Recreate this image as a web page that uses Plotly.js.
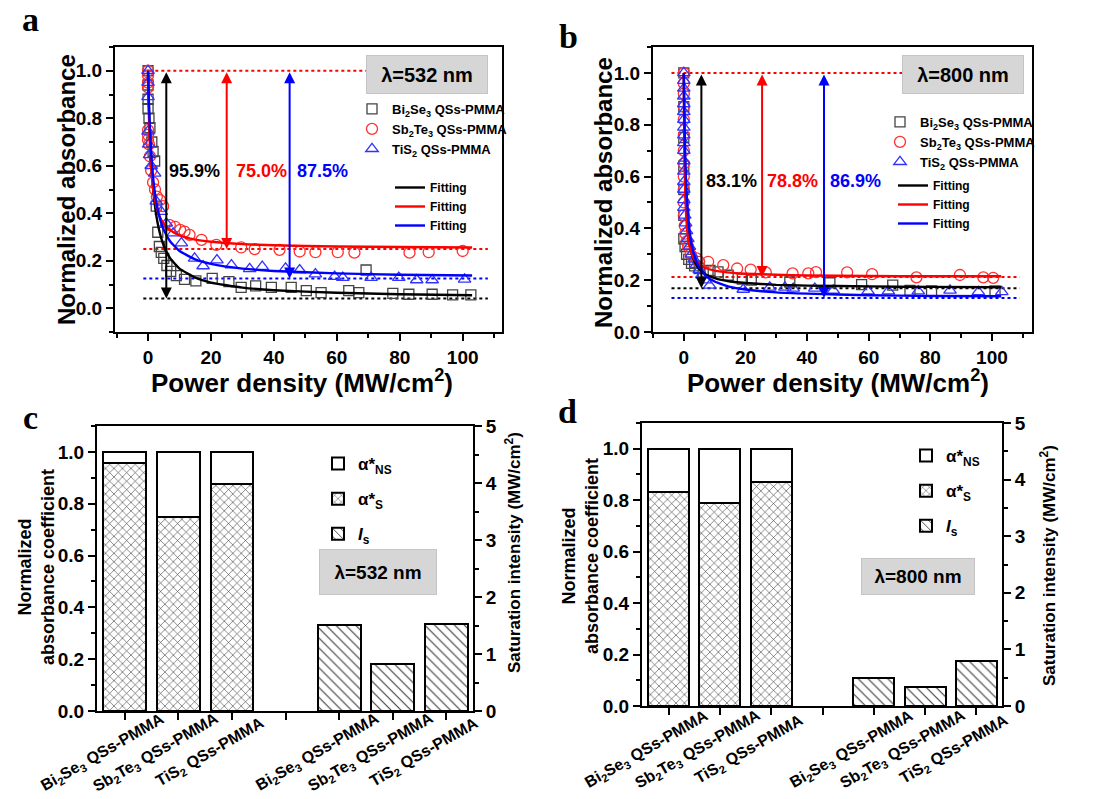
<!DOCTYPE html>
<html>
<head>
<meta charset="utf-8">
<script src="https://cdn.plot.ly/plotly-3.0.1.min.js"></script>
<style>html,body{margin:0;padding:0;background:#fff;}#chart{width:1104px;height:799px;}</style>
</head>
<body>
<div id="chart"></div>
<script>
// ---------------- DATA ----------------
const materials = ['Bi<sub>2</sub>Se<sub>3</sub> QSs-PMMA', 'Sb<sub>2</sub>Te<sub>3</sub> QSs-PMMA', 'TiS<sub>2</sub> QSs-PMMA'];

// Panel a (532 nm) measured points
const aBiX = [0, 0, 0, 0, 0.3, 0.6, 1.2, 1.6, 2.1, 2.6, 3.1, 3.6, 4.2, 5.0, 6.0, 7.2, 9.0, 11.6, 15.2, 20.4, 25.7, 29.6, 34.2, 39.2, 45.5, 50.3, 55.0, 63.8, 67.0, 69.3, 77.8, 82.9, 90.3, 96.8, 102.6];
const aBiY = [1.0, 0.94, 0.88, 0.84, 0.80, 0.76, 0.70, 0.66, 0.62, 0.43, 0.32, 0.26, 0.235, 0.21, 0.18, 0.155, 0.137, 0.122, 0.115, 0.126, 0.112, 0.088, 0.094, 0.088, 0.088, 0.074, 0.066, 0.074, 0.066, 0.161, 0.063, 0.059, 0.059, 0.056, 0.056];
const aSbX = [0, 0, 0, 0, 0, 0, 0, 0.3, 0.6, 1.0, 1.6, 2.2, 2.8, 3.8, 4.8, 6.9, 8.6, 10.2, 11.6, 13.2, 17.0, 21.7, 29.6, 33.9, 41.8, 48.2, 53.2, 60.3, 65.6, 83.1, 89.2, 100.0];
const aSbY = [1.0, 0.98, 0.95, 0.93, 0.75, 0.73, 0.71, 0.69, 0.64, 0.58, 0.53, 0.50, 0.47, 0.455, 0.43, 0.35, 0.343, 0.33, 0.323, 0.309, 0.288, 0.267, 0.256, 0.249, 0.246, 0.239, 0.236, 0.236, 0.234, 0.234, 0.236, 0.241];
const aTiX = [0, 0, 0, 0, 0.2, 0.5, 1.0, 2.1, 2.6, 4.2, 5.8, 8.0, 10.6, 14.8, 17.5, 21.9, 26.5, 32.3, 36.3, 43.7, 48.2, 53.2, 59.3, 61.9, 70.9, 79.7, 85.4, 90.3, 100.6];
const aTiY = [1.0, 0.95, 0.89, 0.745, 0.69, 0.646, 0.60, 0.568, 0.45, 0.407, 0.358, 0.316, 0.274, 0.21, 0.178, 0.203, 0.182, 0.166, 0.175, 0.168, 0.161, 0.144, 0.133, 0.129, 0.129, 0.129, 0.119, 0.119, 0.122];

// Panel a fitting curves
const aFitX  = [0, 0.25, 0.5, 1, 1.5, 2, 3, 4, 5, 7, 10, 15, 20, 30, 40, 60, 80, 103];
const aFitBi = [1.0, 0.864, 0.762, 0.618, 0.522, 0.453, 0.362, 0.304, 0.263, 0.211, 0.167, 0.129, 0.108, 0.087, 0.076, 0.065, 0.059, 0.055];
const aFitSb = [1.0, 0.825, 0.716, 0.588, 0.515, 0.468, 0.411, 0.378, 0.356, 0.329, 0.307, 0.289, 0.280, 0.270, 0.265, 0.260, 0.258, 0.256];
const aFitTi = [1.0, 0.877, 0.784, 0.654, 0.567, 0.504, 0.420, 0.367, 0.330, 0.282, 0.241, 0.206, 0.187, 0.167, 0.157, 0.147, 0.141, 0.138];

// Panel b (800 nm) measured points
const bBiX = [0, 0, 0, 0, 0, 0, 0, 0.4, 0.9, 1.6, 2.5, 3.5, 5.0, 6.3, 8.5, 11.1, 14.4, 19.0, 21.9, 34.4, 47.4, 57.7, 67.8, 73.4, 80.4, 101.0];
const bBiY = [1.0, 0.87, 0.75, 0.64, 0.55, 0.45, 0.36, 0.33, 0.30, 0.28, 0.265, 0.255, 0.245, 0.232, 0.238, 0.232, 0.219, 0.204, 0.20, 0.193, 0.19, 0.183, 0.181, 0.161, 0.159, 0.159];
const bSbX = [0, 0, 0, 0, 0, 0, 0, 0, 0, 0, 0, 0, 0.3, 0.5, 0.9, 1.4, 2.2, 4.1, 5.0, 7.9, 12.8, 17.3, 21.7, 26.6, 35.3, 40.4, 42.9, 53.0, 61.1, 75.5, 89.6, 97.2, 100.4];
const bSbY = [1.0, 0.96, 0.92, 0.87, 0.82, 0.76, 0.70, 0.65, 0.60, 0.55, 0.50, 0.45, 0.41, 0.38, 0.35, 0.33, 0.30, 0.284, 0.271, 0.271, 0.258, 0.245, 0.241, 0.23, 0.226, 0.226, 0.231, 0.23, 0.223, 0.211, 0.22, 0.211, 0.209];
const bTiX = [0, 0, 0, 0, 0, 0, 0, 0, 0, 0, 0, 0, 0, 0, 0, 0, 0, 0.3, 0.6, 0.9, 1.3, 1.8, 2.5, 3.3, 4.1, 5.0, 5.9, 7.0, 8.4, 19.3, 27.9, 32.8, 35.5, 42.5, 48.5, 59.8, 66.4, 76.1, 86.4, 95.6, 103.2];
const bTiY = [1.0, 0.97, 0.94, 0.91, 0.88, 0.85, 0.82, 0.79, 0.76, 0.73, 0.70, 0.66, 0.62, 0.58, 0.55, 0.51, 0.48, 0.45, 0.42, 0.39, 0.36, 0.33, 0.30, 0.28, 0.26, 0.24, 0.22, 0.20, 0.18, 0.164, 0.172, 0.172, 0.168, 0.168, 0.161, 0.158, 0.158, 0.158, 0.161, 0.155, 0.155];

// Panel b fitting curves
const bFitX  = [0, 0.1, 0.25, 0.5, 0.75, 1, 1.5, 2, 3, 4, 5, 7, 10, 15, 20, 30, 40, 60, 80, 103];
const bFitBi = [1.0, 0.859, 0.719, 0.580, 0.497, 0.442, 0.374, 0.333, 0.286, 0.260, 0.243, 0.223, 0.208, 0.195, 0.189, 0.182, 0.179, 0.176, 0.174, 0.173];
const bFitSb = [1.0, 0.817, 0.660, 0.525, 0.453, 0.408, 0.354, 0.324, 0.290, 0.272, 0.261, 0.247, 0.237, 0.229, 0.225, 0.221, 0.218, 0.216, 0.215, 0.215];
const bFitTi = [1.0, 0.902, 0.791, 0.663, 0.577, 0.515, 0.431, 0.377, 0.312, 0.274, 0.250, 0.219, 0.195, 0.174, 0.164, 0.153, 0.148, 0.142, 0.139, 0.138];

// Panels c/d: bar values
const alphaS_532  = [0.959, 0.750, 0.875];
const alphaNS_532 = [0.041, 0.250, 0.125];
const Is_532      = [1.51, 0.82, 1.53];
const alphaS_800  = [0.831, 0.788, 0.869];
const alphaNS_800 = [0.169, 0.212, 0.131];
const Is_800      = [0.49, 0.33, 0.79];
const pctLabels_532 = ['95.9%', '75.0%', '87.5%'];
const pctLabels_800 = ['83.1%', '78.8%', '86.9%'];

// ---------------- STYLE ----------------
const FONT = "'Liberation Sans', Arial, sans-serif";
const SERIF = "'Liberation Serif', 'Times New Roman', serif";
const colors = ['#000000', '#ff0000', '#0000ff'];
const markColors = ['#444444', '#ff3030', '#3333ff'];
const symbols = ['square-open', 'circle-open', 'triangle-up-open'];
const W = 1104, H = 799;
const px = v => v / W, py = v => 1 - v / H;

const tickFont = {family: FONT, size: 19, color: '#000', weight: 'bold'};
const minorStyle = (dt) => ({dtick: dt, ticklen: 4, tickwidth: 2, ticks: 'outside', tickcolor: '#000'});
const baseAxis = {showline: true, linewidth: 2, linecolor: '#000', ticks: 'outside', ticklen: 7, tickwidth: 2,
  tickcolor: '#000', showgrid: false, zeroline: false, tickfont: tickFont, fixedrange: true};

const traces = [];
function scatterPanel(xa, ya, pts, fits, fitX, legM, legL) {
  pts.forEach((p, i) => {
    traces.push({type: 'scatter', mode: 'markers', x: p[0], y: p[1], xaxis: xa, yaxis: ya,
      name: materials[i], legend: legM,
      marker: {symbol: symbols[i], size: i === 0 ? 10 : 11, color: markColors[i], line: {width: 1.3, color: markColors[i]}}});
  });
  fits.forEach((f, i) => {
    traces.push({type: 'scatter', mode: 'lines', x: fitX, y: f, xaxis: xa, yaxis: ya,
      name: 'Fitting', legend: legL, line: {color: colors[i], width: 2.4, shape: 'spline', smoothing: 0.4}});
  });
}
scatterPanel('x', 'y', [[aBiX, aBiY], [aSbX, aSbY], [aTiX, aTiY]], [aFitBi, aFitSb, aFitTi], aFitX, 'legend', 'legend2');
scatterPanel('x2', 'y2', [[bBiX, bBiY], [bSbX, bSbY], [bTiX, bTiY]], [bFitBi, bFitSb, bFitTi], bFitX, 'legend3', 'legend4');

const posA = materials.map((_, i) => i);
const posI = materials.map((_, i) => i + 4);
function barPanel(xa, ya, yr, aS, aNS, Is, leg, tag) {
  const line = {color: '#000', width: 2};
  traces.push({type: 'bar', x: posA, y: aS, xaxis: xa, yaxis: ya, width: 0.8, name: 'α*<sub>S</sub>',
    legend: leg, legendrank: 2, legendgroup: tag + 's',
    marker: {color: '#fff', line: line, pattern: {shape: 'x', fgcolor: '#333', bgcolor: '#fff', size: 6, solidity: 0.18}}});
  traces.push({type: 'bar', x: posA, y: aNS, xaxis: xa, yaxis: ya, width: 0.8, name: 'α*<sub>NS</sub>',
    legend: leg, legendrank: 1, legendgroup: tag + 'ns',
    marker: {color: '#fff', line: line}});
  traces.push({type: 'bar', x: posI, y: Is, xaxis: xa, yaxis: yr, width: 0.8, name: '<i>I</i><sub>s</sub>',
    legend: leg, legendrank: 3, legendgroup: tag + 'is',
    marker: {color: '#fff', line: line, pattern: {shape: '\\', fgcolor: '#333', bgcolor: '#fff', size: 7, solidity: 0.15}}});
}
barPanel('x3', 'y3', 'y5', alphaS_532, alphaNS_532, Is_532, 'legend5', 'c');
barPanel('x4', 'y4', 'y6', alphaS_800, alphaNS_800, Is_800, 'legend6', 'd');

const catTickVals = [0, 1, 2, 3, 4, 5, 6];
const catFont = {family: FONT, size: 16, color: '#000', weight: 'bold'};

const layout = {
  width: W, height: H, margin: {l: 0, r: 0, t: 0, b: 0},
  paper_bgcolor: '#fff', plot_bgcolor: 'rgba(0,0,0,0)',
  font: {family: FONT, color: '#000'},
  barmode: 'stack', bargap: 0.2,
  xaxis: Object.assign({}, baseAxis, {domain: [px(115), px(502)], anchor: 'y', range: [-10.5, 112.5], tick0: 0, dtick: 20, mirror: true, minor: minorStyle(10)}),
  yaxis: Object.assign({}, baseAxis, {domain: [py(332), py(47)], anchor: 'x', range: [-0.1, 1.1], tick0: 0, dtick: 0.2, tickformat: '.1f', mirror: true, minor: minorStyle(0.1)}),
  xaxis2: Object.assign({}, baseAxis, {domain: [px(653), px(1032)], anchor: 'y2', range: [-10, 113], tick0: 0, dtick: 20, mirror: true, minor: minorStyle(10)}),
  yaxis2: Object.assign({}, baseAxis, {domain: [py(332), py(47)], anchor: 'x2', range: [0, 1.1], tick0: 0, dtick: 0.2, tickformat: '.1f', mirror: true, minor: minorStyle(0.1)}),
  xaxis3: Object.assign({}, baseAxis, {domain: [px(97), px(473)], anchor: 'y3', range: [-0.52, 6.5], tickmode: 'array', tickvals: catTickVals, showticklabels: false, mirror: true}),
  yaxis3: Object.assign({}, baseAxis, {domain: [py(711), py(426)], anchor: 'x3', range: [0, 1.1], tick0: 0, dtick: 0.2, tickformat: '.1f', minor: minorStyle(0.1)}),
  yaxis5: Object.assign({}, baseAxis, {overlaying: 'y3', side: 'right', anchor: 'x3', range: [0, 5], tick0: 0, dtick: 1, minor: minorStyle(0.5)}),
  xaxis4: Object.assign({}, baseAxis, {domain: [px(642), px(1002)], anchor: 'y4', range: [-0.52, 6.5], tickmode: 'array', tickvals: catTickVals, showticklabels: false, mirror: true}),
  yaxis4: Object.assign({}, baseAxis, {domain: [py(706), py(423)], anchor: 'x4', range: [0, 1.1], tick0: 0, dtick: 0.2, tickformat: '.1f', minor: minorStyle(0.1)}),
  yaxis6: Object.assign({}, baseAxis, {overlaying: 'y4', side: 'right', anchor: 'x4', range: [0, 5], tick0: 0, dtick: 1, minor: minorStyle(0.5)}),
  shapes: [], annotations: []
};

const legBase = {xanchor: 'left', yanchor: 'top', bgcolor: 'rgba(0,0,0,0)', borderwidth: 0,
  font: {family: FONT, size: 13, color: '#000', weight: 'bold'}, traceorder: 'normal', itemclick: false, itemdoubleclick: false};
layout.legend  = Object.assign({}, legBase, {x: px(352), y: py(94)});
layout.legend2 = Object.assign({}, legBase, {x: px(390), y: py(173), font: {family: FONT, size: 12, color: '#000', weight: 'bold'}});
layout.legend3 = Object.assign({}, legBase, {x: px(880), y: py(107)});
layout.legend4 = Object.assign({}, legBase, {x: px(893), y: py(171), font: {family: FONT, size: 12, color: '#000', weight: 'bold'}});
const barLeg = Object.assign({}, legBase, {traceorder: 'grouped', tracegroupgap: 10, font: {family: FONT, size: 17, color: '#000', weight: 'bold'}});
layout.legend5 = Object.assign({}, barLeg, {x: px(318), y: py(446)});
layout.legend6 = Object.assign({}, barLeg, {x: px(906), y: py(438)});

// dotted reference lines and double arrows
function refLines(xa, ya, x0, x1, ns, arrowX) {
  layout.shapes.push({type: 'line', xref: xa, yref: ya, x0: x0, x1: x1, y0: 1, y1: 1, layer: 'below', line: {color: '#ff0000', width: 2, dash: 'dot'}});
  ns.forEach((v, i) => {
    layout.shapes.push({type: 'line', xref: xa, yref: ya, x0: x0, x1: x1, y0: v, y1: v, layer: 'below', line: {color: colors[i], width: 2, dash: 'dot'}});
    layout.annotations.push({xref: xa, yref: ya, axref: xa, ayref: ya, x: arrowX[i], y: v, ax: arrowX[i], ay: 1,
      text: '', showarrow: true, arrowside: 'end+start', arrowhead: 2, startarrowhead: 2, arrowsize: 1.1, startarrowsize: 1.1,
      arrowwidth: 2, arrowcolor: colors[i], standoff: 0, startstandoff: 0});
  });
}
refLines('x', 'y', -1.5, 108, alphaNS_532, [5.8, 25, 45]);
refLines('x2', 'y2', -4, 109, alphaNS_800, [5.7, 25.4, 45.5]);

function pct(xa, ya, labels, xs, yv) {
  labels.forEach((t, i) => layout.annotations.push({xref: xa, yref: ya, x: xs[i], y: yv, text: t, showarrow: false,
    font: {family: FONT, size: 18, color: colors[i], weight: 'bold'}}));
}
pct('x', 'y', pctLabels_532, [14.9, 36.2, 55.3], 0.579);
pct('x2', 'y2', pctLabels_800, [15.6, 35.4, 55.8], 0.583);

// rotated category labels under bar panels (centred slightly left of each tick, as in the original)
function catLabels(xa, yCenter, shift) {
  posA.concat(posI).forEach((p, k) => {
    layout.annotations.push({xref: xa, yref: 'paper', x: p - shift, y: py(yCenter), text: materials[k % 3],
      showarrow: false, textangle: -30, xanchor: 'center', yanchor: 'middle', font: catFont});
  });
}
catLabels('x3', 752, 0.41);
catLabels('x4', 749, 0.43);

function txt(t, x, y, size, opts) {
  layout.annotations.push(Object.assign({xref: 'paper', yref: 'paper', x: px(x), y: py(y), text: t, showarrow: false,
    xanchor: 'center', yanchor: 'middle', font: {family: FONT, size: size, color: '#000', weight: 'bold'}}, opts || {}));
}
// panel letters
['a', 'b', 'c', 'd'].forEach((l, i) => {
  const pos = [[30, 19], [568, 36], [30, 417], [567, 411]][i];
  txt(l, pos[0], pos[1], 34, {font: {family: SERIF, size: 34, color: '#000', weight: 'bold'}});
});
// axis titles
txt('Normalized absorbance', 66, 190, 24, {textangle: -90});
txt('Power density (MW/cm<sup>2</sup>)', 302, 382, 26);
txt('Normalized absorbance', 603, 193, 24, {textangle: -90});
txt('Power density (MW/cm<sup>2</sup>)', 838, 382, 26);
txt('Normalized<br>absorbance coefficient', 36, 567, 18, {textangle: -90});
txt('Saturation intensity (MW/cm<sup>2</sup>)', 513, 553, 17, {textangle: -90});
txt('Normalized<br>absorbance coefficient', 580, 556, 18, {textangle: -90});
txt('Saturation intensity (MW/cm<sup>2</sup>)', 1048, 566, 17, {textangle: -90});
// wavelength boxes
const lamOpts = (w, h) => ({bgcolor: '#d6d6d6', bordercolor: '#c4c4c4', borderwidth: 1, width: w, height: h, align: 'center', valign: 'middle'});
txt('λ=532 nm', 427, 74.5, 20, lamOpts(118, 35));
txt('λ=800 nm', 963, 74.5, 20, lamOpts(118, 35));
txt('λ=532 nm', 378, 572, 19, lamOpts(114, 42));
txt('λ=800 nm', 918, 576.5, 19, lamOpts(110, 33));

Plotly.newPlot('chart', traces, layout, {displayModeBar: false, staticPlot: true});
</script>
</body>
</html>
